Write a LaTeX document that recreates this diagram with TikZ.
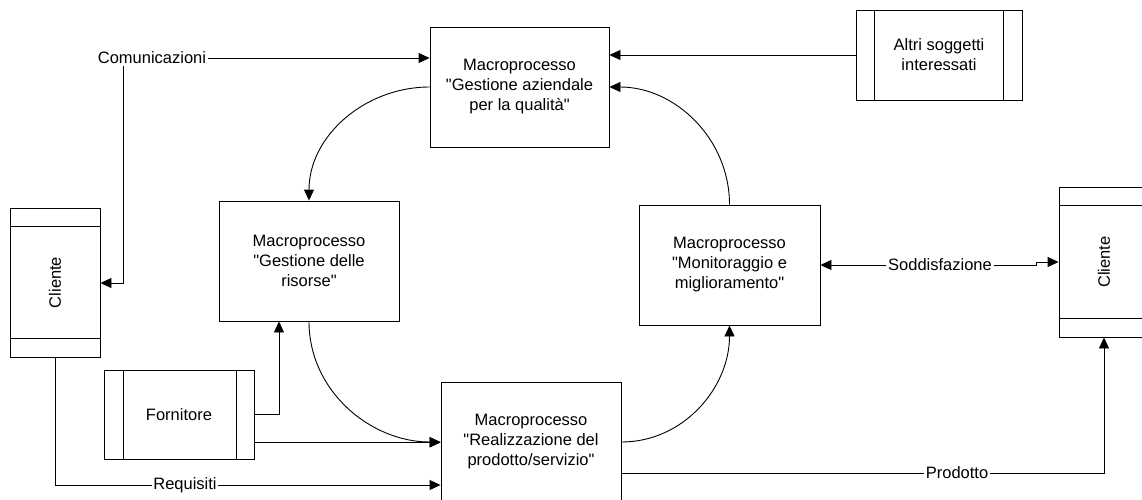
\documentclass[tikz,border=0pt]{standalone}
\usepackage{fontspec}
\setmainfont{Liberation Sans}
\usetikzlibrary{positioning, arrows.meta, calc}

\tikzset{
  procbox/.style={draw, line width=0.9pt, minimum width=180pt, minimum height=120pt, align=center, inner sep=0pt},
  extbox/.style={draw, line width=0.9pt, align=center, inner sep=0pt},
  lbl/.style={inner sep=1.5pt},
  conn/.style={line width=0.9pt},
  arr/.style={conn, -{Triangle[length=11pt, width=10pt]}}
}
\newcommand{\qt}{\textquotedbl}

\begin{document}
\begin{tikzpicture}[x=1pt, y=-1pt, font=\fontsize{16.5}{20}\selectfont]
        \useasboundingbox (0,0) rectangle (1142,499);
        % macroprocessi
        \node[procbox, minimum width=179pt] (gest) at (519.5,87) {Macroprocesso\\\qt Gestione aziendale\\per la qualità\qt};
        \node[procbox] (ris) at (309,261) {Macroprocesso\\\qt Gestione delle\\risorse\qt};
        \node[procbox, minimum width=181pt] (mon) at (729.5,265) {Macroprocesso\\\qt Monitoraggio e\\miglioramento\qt};
        \node[procbox] (prod) at (531,442) {Macroprocesso\\\qt Realizzazione del\\prodotto/servizio\qt};
        % soggetti esterni
        \node[extbox, minimum width=90pt, minimum height=149pt] (cl) at (55,282.5) {};
        \node[rotate=90] (cltxt) at (cl) {Cliente};
        \draw[conn] ($(cl.north west)+(0,19)$) -- ($(cl.north east)+(0,19)$);
        \draw[conn] ($(cl.south west)+(0,-19)$) -- ($(cl.south east)+(0,-19)$);
        \node[extbox, minimum width=90pt, minimum height=150pt] (cr) at (1104,262) {};
        \node[rotate=90] (crtxt) at (cr) {Cliente};
        \draw[conn] ($(cr.north west)+(0,19)$) -- ($(cr.north east)+(0,19)$);
        \draw[conn] ($(cr.south west)+(0,-19)$) -- ($(cr.south east)+(0,-19)$);
        \node[extbox, minimum width=150pt, minimum height=89pt] (forn) at (179,414.5) {Fornitore};
        \draw[conn] ($(forn.north west)+(20,0)$) -- ($(forn.south west)+(20,0)$);
        \draw[conn] ($(forn.north east)+(-18,0)$) -- ($(forn.south east)+(-18,0)$);
        \node[extbox, minimum width=166pt, minimum height=90pt] (altri) at (939,55) {Altri soggetti\\interessati};
        \draw[conn] ($(altri.north west)+(19,0)$) -- ($(altri.south west)+(19,0)$);
        \draw[conn] ($(altri.north east)+(-19,0)$) -- ($(altri.south east)+(-19,0)$);
        % etichette
        \node[lbl] (com) at (152,58) {Comunicazioni};
        \node[lbl] (sod) at (940,265) {Soddisfazione};
        \node[lbl] (req) at (185,485) {Requisiti};
        \node[lbl] (prt) at (957,473) {Prodotto};
        \coordinate (cturn) at (123,283);
        \coordinate (fturn) at (279,414.5);
        \coordinate (fout) at ($(forn.south east)+(0,-17)$);
        \coordinate (jog) at (1036,265);
        \coordinate (jog2) at (1036,262);
        % flussi
        \draw[arr] (com.east) -- (com.east -| gest.west);
        \draw[arr] (com.south -| cturn) -- (cturn) -- (cturn -| cl.east);
        \draw[arr] (altri.west) -- (altri.west -| gest.east);
        \draw[arr] (gest.west) to[out=180, in=90] (ris.north);
        \draw[arr] (mon.north) to[out=90, in=0] (gest.east);
        \draw[arr] (ris.south) to[out=-90, in=180] (prod.west);
        \draw[arr] (prod.east) to[out=0, in=-90] (mon.south);
        \draw[arr] (forn.east) -- (fturn) -- (fturn |- ris.south);
        \draw[arr] (fout) -- (fout -| prod.west);
        \draw[conn] (cl.south) |- (req.west);
        \draw[arr] (req.east) -- (req.east -| prod.west);
        \draw[conn] (prod.east |- prt) -- (prt.west);
        \draw[arr] (prt.east) -| (cr.south);
        \draw[arr] (sod.west) -- (mon.east);
        \draw[arr] (sod.east) -- (jog) -- (jog2) -- (jog2 -| cr.west);
      \end{tikzpicture}
\end{document}
